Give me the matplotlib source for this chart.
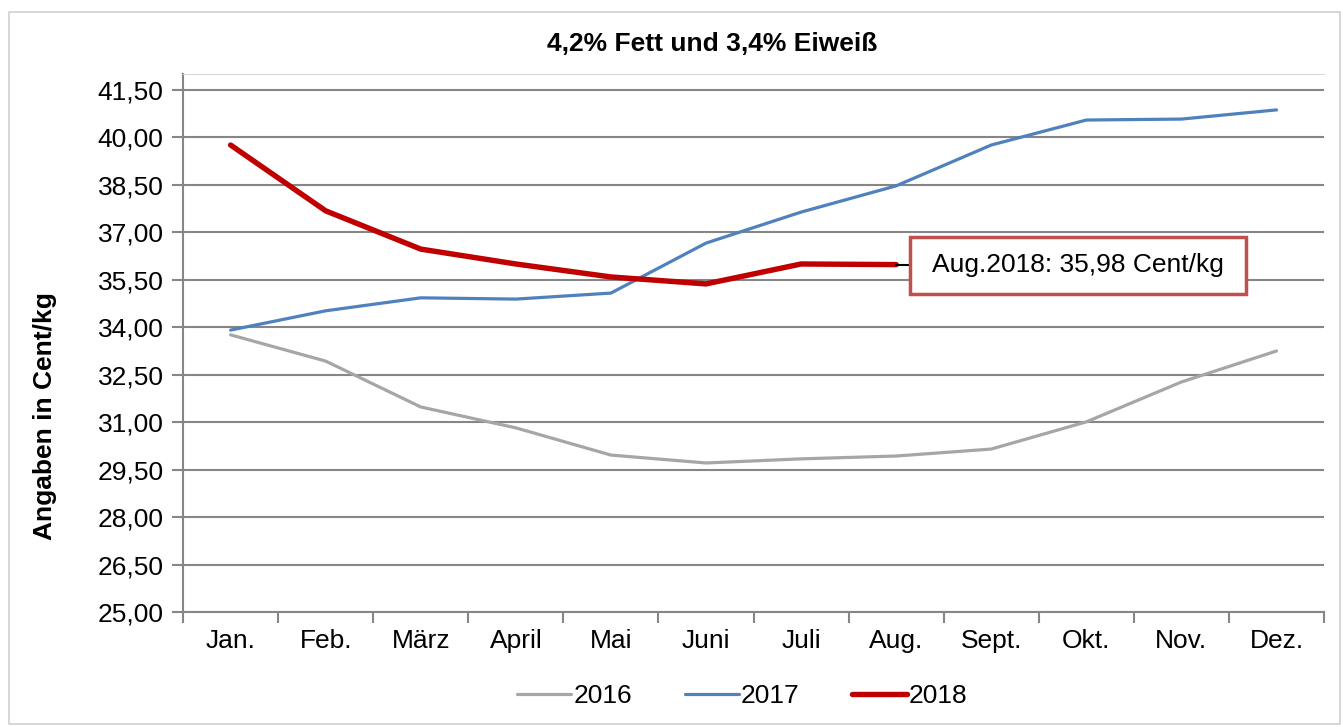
import numpy as np
import matplotlib.pyplot as plt

plt.rcParams['font.family'] = ['Liberation Sans', 'DejaVu Sans']

# Daten (Cent/kg)
monate = ['Jan.', 'Feb.', 'März', 'April', 'Mai', 'Juni', 'Juli', 'Aug.',
          'Sept.', 'Okt.', 'Nov.', 'Dez.']
preis_2016 = [33.76, 32.93, 31.48, 30.82, 29.96, 29.71, 29.84, 29.93,
              30.15, 31.01, 32.27, 33.25]
preis_2017 = [33.91, 34.52, 34.93, 34.89, 35.08, 36.66, 37.64, 38.47,
              39.76, 40.55, 40.58, 40.87]
preis_2018 = [39.76, 37.68, 36.47, 36.00, 35.59, 35.37, 36.00, 35.98]
y_ticks = np.arange(25.0, 41.51, 1.5)

fig = plt.figure(figsize=(13.43, 7.27), dpi=100)
fig.patches.append(plt.Rectangle((0.007, 0.004), 0.991, 0.98, transform=fig.transFigure,
                                 fill=False, edgecolor='#d0d0d0', lw=1.2))
ax = fig.add_axes([0.1363, 0.1582, 0.8496, 0.7398])

x = np.arange(len(monate))
ax.plot(x, preis_2016, color='#a6a6a6', lw=2.3, label='2016', solid_capstyle='round')
ax.plot(x, preis_2017, color='#4f81bd', lw=2.3, label='2017', solid_capstyle='round')
ax.plot(x[:len(preis_2018)], preis_2018, color='#c00000', lw=3.9, label='2018',
        solid_capstyle='round')

ax.set_xlim(-0.5, len(monate) - 0.5)
ax.set_ylim(25.0, 42.0)
ax.set_yticks(y_ticks)
ax.set_yticklabels([f'{v:.2f}'.replace('.', ',') for v in y_ticks], fontsize=19)
ax.set_xticks(x)
ax.set_xticklabels(monate, fontsize=19)
ax.set_xticks(np.arange(-0.5, len(monate)), minor=True)
ax.tick_params(axis='x', which='major', length=0, pad=12)
ax.tick_params(axis='x', which='minor', length=8, width=1.5, color='#868686')
ax.tick_params(axis='y', length=8, width=1.5, color='#868686', pad=6)
ax.grid(axis='y', color='#868686', lw=1.5)
ax.set_axisbelow(True)
for s in ['left', 'bottom']:
    ax.spines[s].set_color('#868686')
    ax.spines[s].set_linewidth(1.5)
ax.spines['right'].set_visible(False)
ax.spines['top'].set_color('#d9d9d9')

fig.text(0.530, 0.9395, '4,2% Fett und 3,4% Eiweiß', fontsize=19, fontweight='bold',
         ha='center', va='center')
ax.set_ylabel('Angaben in Cent/kg', fontsize=19, fontweight='bold')
ax.yaxis.set_label_coords(-0.1105, 0.364)

# Beschriftung Aug. 2018
i_aug = len(preis_2018) - 1
box_x0, box_x1 = x[i_aug] + 0.15, x[i_aug] + 3.68
box_y0, box_y1 = preis_2018[-1] - 0.93, preis_2018[-1] + 0.87
ax.plot([x[i_aug], box_x0], [preis_2018[-1]] * 2, color='black', lw=1.5, zorder=3)
ax.add_patch(plt.Rectangle((box_x0, box_y0), box_x1 - box_x0, box_y1 - box_y0,
                           fc='white', ec='#c0504d', lw=2.5, zorder=4))
ax.text((box_x0 + box_x1) / 2, preis_2018[-1], 'Aug.2018: 35,98 Cent/kg',
        fontsize=19, ha='center', va='center', zorder=5)

ax.legend(loc='upper center', bbox_to_anchor=(0.49, -0.09), ncol=3, frameon=False,
          fontsize=19, handlelength=2.05, handletextpad=0.08, columnspacing=2.0)

fig.savefig('out.png', dpi=100)
